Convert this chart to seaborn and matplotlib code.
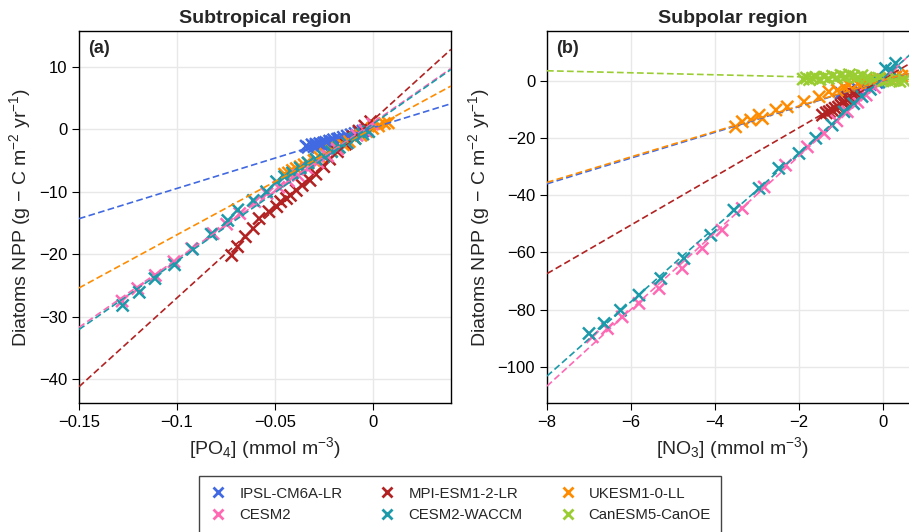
import numpy as np
import pandas as pd
import seaborn as sns
import matplotlib.pyplot as plt
from matplotlib.lines import Line2D

# Models and colours
models = ["IPSL-CM6A-LR", "MPI-ESM1-2-LR", "UKESM1-0-LL", "CESM2", "CESM2-WACCM", "CanESM5-CanOE"]
colors = ["#4169e1", "#b22222", "#ff8c00", "#ff69b4", "#1b9aaa", "#9acd32"]

# ---- Subtropical region: PO4 anomaly vs diatom NPP anomaly ----
ipsl_x_a = [-0.034, -0.033, -0.031, -0.030, -0.029, -0.028, -0.027, -0.026, -0.025, -0.024, -0.023, -0.022,
            -0.021, -0.020, -0.018, -0.017, -0.015, -0.013, -0.011, -0.009, -0.007, -0.005, -0.003]
ipsl_y_a = [-2.7, -2.9, -2.5, -2.8, -2.4, -2.6, -2.3, -2.5, -2.2, -2.1, -2.3, -1.9,
            -2.0, -1.7, -1.6, -1.5, -1.3, -1.1, -0.9, -0.7, -0.5, -0.3, -0.1]
mpi_x_a = [-0.072, -0.069, -0.065, -0.061, -0.058, -0.053, -0.049, -0.047, -0.044, -0.042, -0.039,
           -0.036, -0.032, -0.029, -0.025, -0.022, -0.018, -0.014, -0.010, -0.007, -0.004, -0.001]
mpi_y_a = [-20.2, -18.8, -17.2, -15.9, -14.3, -13.2, -12.4, -11.6, -11.1, -10.6, -9.8,
           -9.0, -8.2, -7.2, -6.0, -4.8, -3.6, -2.4, -1.2, -0.3, 0.5, 1.2]
ukesm_x_a = [-0.045, -0.043, -0.041, -0.039, -0.037, -0.035, -0.033, -0.030, -0.027, -0.024, -0.021,
             -0.018, -0.015, -0.012, -0.009, -0.006, -0.003, 0.0, 0.003, 0.006, 0.008]
ukesm_y_a = [-7.2, -7.0, -6.6, -6.3, -6.0, -5.7, -5.4, -5.0, -4.5, -4.0, -3.5,
             -3.0, -2.5, -2.0, -1.5, -1.0, -0.4, 0.1, 0.5, 0.9, 1.0]
cesm2_x_a = [-0.128, -0.120, -0.111, -0.1015, -0.0925, -0.0815, -0.0746, -0.0679, -0.0602, -0.054, -0.048,
             -0.043, -0.038, -0.033, -0.028, -0.023, -0.018, -0.013, -0.008, -0.004, 0.0]
cesm2_y_a = [-27.5, -25.5, -23.4, -21.2, -19.1, -16.7, -15.2, -13.5, -11.6, -10.3, -9.3,
             -8.3, -7.4, -6.4, -5.3, -4.3, -3.2, -2.2, -1.0, -0.2, 0.8]
waccm_x_a = [-0.1277, -0.1192, -0.1112, -0.1012, -0.0920, -0.0825, -0.074, -0.0689, -0.0610, -0.0542, -0.0491,
             -0.045, -0.041, -0.037, -0.033, -0.029, -0.025, -0.021, -0.017, -0.013, -0.009, -0.005, -0.002]
waccm_y_a = [-28.2, -26.1, -23.9, -21.7, -19.2, -16.8, -14.6, -12.9, -11.4, -10.0, -8.4,
             -7.6, -7.0, -6.2, -5.4, -4.8, -4.4, -3.6, -2.9, -2.2, -1.5, -0.8, -0.4]

# fitted lines (slope, intercept); CanESM5-CanOE has no PO4 panel
slope_a = [96.8, 284.0, 170.0, 218.0, 219.0]
icpt_a = [0.2, 1.4, 0.1, 1.0, 0.8]

# ---- Subpolar region: NO3 anomaly vs diatom NPP anomaly ----
ipsl_x_b = [-1.0, -0.8, -0.6, -0.45, -0.3, -0.15, 0.0, 0.15, 0.3]
ipsl_y_b = [-4.3, -3.5, -2.8, -2.0, -1.3, -0.6, 0.1, 0.7, 1.4]
mpi_x_b = [-1.44, -1.35, -1.28, -1.21, -1.14, -1.06, -1.0, -0.94, -0.90, -0.86, -0.83, -0.78, -0.71, -0.65, -0.6]
mpi_y_b = [-12.0, -11.2, -10.8, -10.3, -9.6, -9.2, -8.5, -7.9, -7.4, -6.6, -5.9, -5.4, -4.7, -4.4, -4.1]
ukesm_x_b = [-3.51, -3.35, -3.15, -2.95, -2.87, -2.55, -2.28, -1.88, -1.52, -1.29, -1.09,
             -0.93, -0.81, -0.6, -0.45, -0.3, -0.15, 0.0, 0.15, 0.3, 0.45, 0.6]
ukesm_y_b = [-16.1, -14.3, -13.7, -12.0, -13.2, -10.2, -9.1, -7.3, -5.6, -3.8, -3.3,
             -2.1, -1.5, -1.0, -0.5, -0.6, 0.2, 0.4, 0.9, 1.3, 1.6, 2.0]
cesm2_x_b = [-6.92, -6.56, -6.21, -5.81, -5.33, -4.78, -4.30, -3.83, -3.35, -2.83, -2.32,
             -1.80, -1.40, -1.1, -0.85, -0.6, -0.4, -0.2, 0.0, 0.2]
cesm2_y_b = [-89.5, -86.6, -82.5, -77.8, -72.6, -65.6, -58.6, -52.2, -44.6, -37.1, -29.5,
             -23.1, -18.4, -14.0, -10.8, -7.5, -5.0, -2.3, 0.2, 2.8]
waccm_x_b = [-7.0, -6.64, -6.25, -5.81, -5.29, -4.74, -4.10, -3.55, -2.95, -2.48, -2.0,
             -1.60, -1.21, -0.93, -0.7, -0.5, -0.3, -0.1, 0.06, 0.2, 0.3]
waccm_y_b = [-88.3, -84.8, -80.2, -74.9, -69.1, -62.1, -54.0, -45.2, -37.6, -30.6, -25.4,
             -20.1, -15.5, -10.8, -8.0, -5.5, -3.0, -0.5, 4.3, 3.5, 6.1]
canoe_x_b = [-1.9, -1.82, -1.75, -1.68, -1.6, -1.5, -1.4, -1.3, -1.2, -1.1, -1.0, -0.9, -0.8,
             -0.7, -0.6, -0.5, -0.4, -0.3, -0.2, -0.1, 0.0, 0.1, 0.2, 0.3, 0.4, 0.5]
canoe_y_b = [0.6, 1.0, 0.4, 0.9, 1.2, 0.5, 1.3, 0.8, 1.6, 1.1, 1.9, 1.4, 2.1,
             1.6, 1.2, 1.8, 1.0, 0.6, 0.2, 0.9, 0.0, 0.4, 0.0, 0.3, -0.2, 0.1]

slope_b = [4.5, 8.5, 4.45, 13.4, 13.0, -0.35]
icpt_b = [0.0, 0.6, 0.1, 0.5, 0.8, 0.7]


def long_df(xs, ys, names):
    parts = [pd.DataFrame({"x": x, "y": y, "model": n}) for x, y, n in zip(xs, ys, names)]
    return pd.concat(parts, ignore_index=True)


df_a = long_df([ipsl_x_a, mpi_x_a, ukesm_x_a, cesm2_x_a, waccm_x_a],
               [ipsl_y_a, mpi_y_a, ukesm_y_a, cesm2_y_a, waccm_y_a], models[:5])
df_b = long_df([ipsl_x_b, mpi_x_b, ukesm_x_b, cesm2_x_b, waccm_x_b, canoe_x_b],
               [ipsl_y_b, mpi_y_b, ukesm_y_b, cesm2_y_b, waccm_y_b, canoe_y_b], models)

sns.set_style("ticks")
plt.rcParams["font.family"] = ["Liberation Sans", "DejaVu Sans"]
plt.rcParams["mathtext.fontset"] = "custom"
plt.rcParams["mathtext.rm"] = "Liberation Sans"
plt.rcParams["mathtext.it"] = "Liberation Sans:italic"
plt.rcParams["axes.unicode_minus"] = True

palette = dict(zip(models, colors))

fig = plt.figure(figsize=(9.09, 5.32), dpi=100)
ax1 = fig.add_axes([79 / 909, 1 - 403 / 532, 372 / 909, 372 / 532])
ax2 = fig.add_axes([547 / 909, 1 - 403 / 532, 372 / 909, 372 / 532])

ylab = "Diatoms NPP (g − C m$^{-2}$ yr$^{-1}$)"

for ax, df, slopes, icpts, names in [(ax1, df_a, slope_a, icpt_a, models[:5]),
                                      (ax2, df_b, slope_b, icpt_b, models)]:
    sns.scatterplot(data=df, x="x", y="y", hue="model", palette=palette, marker="x",
                    s=75, linewidth=1.8, legend=False, ax=ax, zorder=3)
    for n, s, c in zip(names, slopes, icpts):
        ax.axline((0, c), slope=s, color=palette[n], ls=(0, (4, 2)), lw=1.2, zorder=4)
    ax.grid(True, color="#e8e8e8", lw=1)
    ax.set_axisbelow(True)
    for sp in ax.spines.values():
        sp.set_color("black")
        sp.set_linewidth(1)
    ax.tick_params(direction="out", length=5, labelsize=12, colors="black")
    ax.set_ylabel(ylab, fontsize=14)

ax1.set_xlim(-0.15, 0.04)
ax1.set_ylim(-43.8, 15.7)
ax1.set_xticks([-0.15, -0.1, -0.05, 0])
ax1.set_xticklabels(["−0.15", "−0.1", "−0.05", "0"])
ax1.set_yticks([-40, -30, -20, -10, 0, 10])
ax1.set_yticklabels(["−40", "−30", "−20", "−10", "0", "10"])
ax1.set_xlabel("[PO$_4$] (mmol m$^{-3}$)", fontsize=14)
ax1.set_title("Subtropical region", fontsize=14, fontweight="bold", pad=6)
ax1.text(0.024, 0.975, "(a)", transform=ax1.transAxes, fontsize=13, fontweight="bold", va="top")

ax2.set_xlim(-8, 0.857)
ax2.set_ylim(-112.6, 17.4)
ax2.set_xticks([-8, -6, -4, -2, 0])
ax2.set_xticklabels(["−8", "−6", "−4", "−2", "0"])
ax2.set_yticks([-100, -80, -60, -40, -20, 0])
ax2.set_yticklabels(["−100", "−80", "−60", "−40", "−20", "0"])
ax2.set_xlabel("[NO$_3$] (mmol m$^{-3}$)", fontsize=14)
ax2.set_title("Subpolar region", fontsize=14, fontweight="bold", pad=6)
ax2.text(0.024, 0.975, "(b)", transform=ax2.transAxes, fontsize=13, fontweight="bold", va="top")

# legend: matplotlib fills columns first, so reorder for row-wise reading
order = [0, 3, 1, 4, 2, 5]
handles = [Line2D([], [], marker="x", ls="none", color=colors[i], markersize=7, mew=2) for i in order]
labels = [models[i] for i in order]
leg = fig.legend(handles, labels, loc="upper center", bbox_to_anchor=(460 / 909, 1 - 476 / 532),
                 ncol=3, fontsize=10.8, frameon=True, fancybox=False, framealpha=1,
                 edgecolor="#444444", columnspacing=2.4, handlelength=1.2, handletextpad=0.8,
                 borderpad=0.7, labelspacing=0.5, borderaxespad=0)
leg.get_frame().set_linewidth(1)

fig.savefig("out.png", dpi=100)
